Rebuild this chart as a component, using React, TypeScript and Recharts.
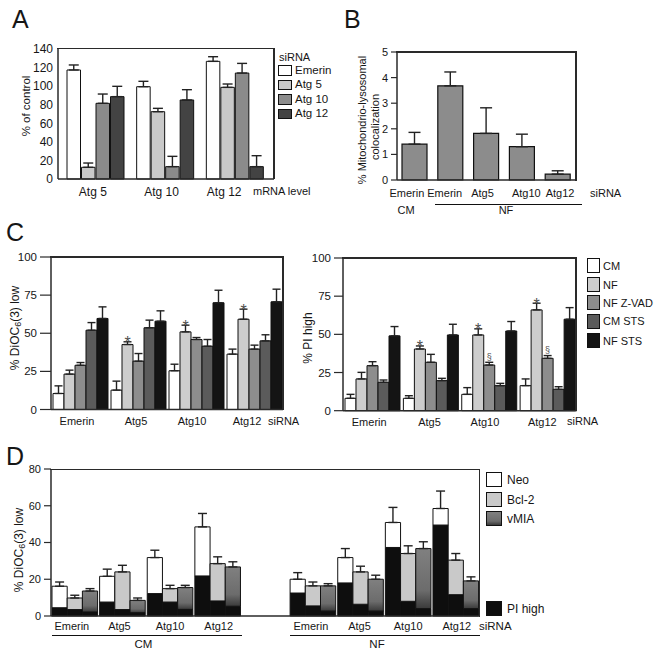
import React from 'react';
import { BarChart, Bar, XAxis, YAxis, ErrorBar, LabelList } from 'recharts';

const FONT = '"Liberation Sans", Arial, Helvetica, sans-serif';
const INK = '#161616';
const FRAME = '#2a2a2a';

// ---------------- Panel A : % of control (mRNA level) ----------------
const aCategories = ['Atg 5', 'Atg 10', 'Atg 12'];
const aSeriesNames = ['Emerin', 'Atg 5', 'Atg 10', 'Atg 12'];
const aEmerin = [117.4, 99.4, 126.7];
const aEmerinErr = [5.4, 5.8, 5.0];
const aAtg5 = [12.6, 72.5, 98.7];
const aAtg5Err = [4.6, 3.6, 3.6];
const aAtg10 = [81.5, 13.3, 114.1];
const aAtg10Err = [10.0, 11.1, 10.4];
const aAtg12 = [88.7, 85.1, 13.3];
const aAtg12Err = [11.1, 11.1, 11.8];
const aTicks = [0, 20, 40, 60, 80, 100, 120, 140];

// ---------------- Panel B : % mitochondrio-lysosomal colocalization ----------------
const bCategories = ['Emerin', 'Emerin', 'Atg5', 'Atg10', 'Atg12'];
const bValues = [1.4, 3.68, 1.82, 1.3, 0.23];
const bErr = [0.46, 0.54, 1.0, 0.49, 0.13];
const bTicks = [0, 1, 2, 3, 4, 5];

// ---------------- Panel C ----------------
const cCategories = ['Emerin', 'Atg5', 'Atg10', 'Atg12'];
const cSeriesNames = ['CM', 'NF', 'NF Z-VAD', 'CM STS', 'NF STS'];
const cTicks = [0, 25, 50, 75, 100];
// left: % DiOC6(3) low
const cLowCM = [10.5, 12.7, 25.4, 36.3];
const cLowCMErr = [5.0, 5.9, 4.3, 3.3];
const cLowNF = [23.2, 42.6, 50.9, 59.2];
const cLowNFErr = [2.6, 1.8, 4.4, 6.6];
const cLowNFZ = [29.0, 31.7, 45.9, 39.6];
const cLowNFZErr = [1.8, 5.0, 1.3, 2.6];
const cLowCMSTS = [52.0, 53.6, 41.5, 45.0];
const cLowCMSTSErr = [5.0, 5.0, 4.4, 4.0];
const cLowNFSTS = [59.7, 57.9, 70.0, 70.6];
const cLowNFSTSErr = [7.6, 6.8, 8.2, 8.3];
const cLowNFMark = ['', '*', '*', '*'];
const cLowNFZMark = ['', '', '', ''];
// right: % PI high
const cPiCM = [8.1, 8.1, 10.7, 16.4];
const cPiCMErr = [2.6, 1.7, 4.4, 4.4];
const cPiNF = [20.8, 40.4, 49.6, 66.0];
const cPiNFErr = [4.3, 2.0, 4.0, 4.4];
const cPiNFZ = [29.5, 31.7, 29.9, 34.3];
const cPiNFZErr = [2.6, 5.2, 1.8, 1.8];
const cPiCMSTS = [18.6, 19.7, 16.4, 14.0];
const cPiCMSTSErr = [1.5, 1.5, 1.5, 1.7];
const cPiNFSTS = [49.0, 49.6, 52.2, 59.9];
const cPiNFSTSErr = [6.1, 7.0, 6.2, 7.6];
const cPiNFMark = ['', '*', '*', '*'];
const cPiNFZMark = ['', '', '§', '§'];

// ---------------- Panel D : % DiOC6(3) low with PI high fraction ----------------
const dCategories = ['Emerin', 'Atg5', 'Atg10', 'Atg12', '', 'Emerin', 'Atg5', 'Atg10', 'Atg12'];
const dNeoTotal = [16.2, 21.6, 31.8, 48.5, 0, 20.0, 31.8, 50.9, 58.5];
const dNeoErr = [2.3, 3.9, 4.0, 7.3, 0, 3.6, 4.9, 8.2, 9.5];
const dNeoPI = [4.5, 7.6, 12.2, 21.8, 0, 12.5, 18.0, 37.3, 49.5];
const dBclTotal = [9.8, 24.0, 14.9, 28.5, 0, 16.4, 24.0, 34.0, 30.4];
const dBclErr = [1.5, 3.6, 1.8, 3.7, 0, 2.1, 3.1, 4.2, 3.6];
const dBclPI = [3.5, 3.5, 7.6, 8.2, 0, 5.5, 6.4, 8.0, 11.6];
const dVmiaTotal = [13.6, 8.5, 15.5, 26.7, 0, 16.4, 20.0, 36.7, 19.1];
const dVmiaErr = [1.3, 1.3, 1.2, 2.8, 0, 1.2, 2.2, 3.7, 2.2];
const dVmiaPI = [2.2, 1.8, 3.6, 5.3, 0, 2.7, 2.7, 4.0, 4.0];
const dTicks = [0, 20, 40, 60, 80];
const dSeriesNames = ['Neo', 'Bcl-2', 'vMIA', 'PI high'];

// ---------------- styling ----------------
const A_COLORS = ['#ffffff', '#c9c9c9', '#8b8b8b', '#434343'];
const C_COLORS = ['#ffffff', '#cdcdcd', '#8d8d8d', '#5b5b5b', '#141414'];
const D_COLORS = ['#ffffff', '#c9c9c9', 'url(#vmiaGrad)', '#0e0e0e'];
const B_COLOR = '#8c8c8c';

const axisLine = { stroke: FRAME, strokeWidth: 1.5 };

type Plot = { x: number; y: number; w: number; h: number };
const PT = 12, PR = 8, PL = 4;
function boxOf(p: Plot, yw: number, xh: number) {
  return {
    style: { position: 'absolute' as const, left: p.x - yw - PL, top: p.y - PT },
    width: p.w + yw + PL + PR,
    height: p.h + PT + xh,
    margin: { top: PT, right: PR, left: PL, bottom: 0 },
  };
}

const catTick = (fs: number, shift: number[] | number = 0) => (props: any) => {
  const { x, y, payload, index } = props;
  const dx = Array.isArray(shift) ? shift[index] ?? 0 : shift;
  return (
    <text x={x + dx} y={y} dy="0.71em" textAnchor="middle" fontSize={fs} fontFamily={FONT} fill={INK}>
      {payload.value}
    </text>
  );
};

const up = (key: string) => (d: any) => [0, d[key] ?? 0];

const markContent = (fs: number, lift: number) => (props: any) => {
  const vb = props.viewBox || {};
  const x = props.x ?? vb.x;
  const y = props.y ?? vb.y;
  const width = props.width ?? vb.width;
  const height = props.height ?? vb.height;
  const value = props.value;
  if (!value || typeof value !== 'string') return null;
  const [mark, errS, valS] = value.split('|');
  const err = parseFloat(errS);
  const val = parseFloat(valS);
  const errTop = y - (height / val) * err;
  return (
    <text x={x + width / 2} y={errTop + lift} textAnchor="middle" fontSize={fs} fontFamily={FONT} fill="#505050">
      {mark}
    </text>
  );
};
const markKey = (markK: string, errK: string, valK: string) => (d: any) =>
  d[markK] ? `${d[markK]}|${d[errK]}|${d[valK]}` : '';

// ---------------- data rows ----------------
const aData = aCategories.map((cat, i) => ({
  cat,
  emerin: aEmerin[i], emerinErr: aEmerinErr[i],
  atg5: aAtg5[i], atg5Err: aAtg5Err[i],
  atg10: aAtg10[i], atg10Err: aAtg10Err[i],
  atg12: aAtg12[i], atg12Err: aAtg12Err[i],
}));

const bData = bCategories.map((cat, i) => ({ cat: cat, key: `${cat}-${i}`, v: bValues[i], err: bErr[i] }));

const makeC = (cm: number[], cmE: number[], nf: number[], nfE: number[], nfz: number[], nfzE: number[],
  cms: number[], cmsE: number[], nfs: number[], nfsE: number[], nfM: string[], nfzM: string[]) =>
  cCategories.map((cat, i) => ({
    cat,
    cm: cm[i], cmErr: cmE[i],
    nf: nf[i], nfErr: nfE[i], nfMark: nfM[i],
    nfz: nfz[i], nfzErr: nfzE[i], nfzMark: nfzM[i],
    cms: cms[i], cmsErr: cmsE[i],
    nfs: nfs[i], nfsErr: nfsE[i],
  }));

const cLowData = makeC(cLowCM, cLowCMErr, cLowNF, cLowNFErr, cLowNFZ, cLowNFZErr, cLowCMSTS, cLowCMSTSErr,
  cLowNFSTS, cLowNFSTSErr, cLowNFMark, cLowNFZMark);
const cPiData = makeC(cPiCM, cPiCMErr, cPiNF, cPiNFErr, cPiNFZ, cPiNFZErr, cPiCMSTS, cPiCMSTSErr,
  cPiNFSTS, cPiNFSTSErr, cPiNFMark, cPiNFZMark);

const dData = dCategories.map((cat, i) => ({
  cat: cat,
  key: `${cat}-${i}`,
  neoPI: dNeoPI[i], neoRest: dNeoTotal[i] - dNeoPI[i], neoErr: dNeoErr[i],
  bclPI: dBclPI[i], bclRest: dBclTotal[i] - dBclPI[i], bclErr: dBclErr[i],
  vmPI: dVmiaPI[i], vmRest: dVmiaTotal[i] - dVmiaPI[i], vmErr: dVmiaErr[i],
}));

// ---------------- plot rectangles ----------------
const A_PLOT: Plot = { x: 58, y: 48.5, w: 216, h: 130 };
const B_PLOT: Plot = { x: 397, y: 52, w: 179, h: 128 };
const CL_PLOT: Plot = { x: 51, y: 257, w: 232, h: 152.5 };
const CR_PLOT: Plot = { x: 342.5, y: 258, w: 233.5, h: 152.7 };
const D_PLOT: Plot = { x: 50.7, y: 469.3, w: 428.6, h: 147 };

const yTick = (fs: number) => ({ fontSize: fs, fill: INK, fontFamily: FONT });

// top and right edges of a boxed plot
function FrameEdges({ p }: { p: Plot }) {
  return (
    <>
      <div style={{ position: 'absolute', left: p.x - 0.75, top: p.y - 0.75, width: p.w + 1.5, height: 1.5, background: FRAME, pointerEvents: 'none' }} />
      <div style={{ position: 'absolute', left: p.x + p.w - 0.75, top: p.y - 0.75, width: 1.5, height: p.h + 1.5, background: FRAME, pointerEvents: 'none' }} />
    </>
  );
}

function PanelA() {
  const b = boxOf(A_PLOT, 40, 26);
  const keys = ['emerin', 'atg5', 'atg10', 'atg12'];
  return (
    <div style={b.style}>
      <BarChart width={b.width} height={b.height} margin={b.margin} data={aData} barSize={13.5} barGap={1}>
        <XAxis dataKey="cat" interval={0} tick={catTick(12, [-3, -4, -11])} tickLine={false} tickSize={0} tickMargin={8}
          axisLine={axisLine} height={26} padding={{ left: 3, right: 4 }} />
        <YAxis domain={[0, 140]} ticks={aTicks} interval={0} tick={yTick(12)} tickLine={false} tickSize={0} tickMargin={5}
          axisLine={axisLine} width={40} />
        {keys.map((k, i) => (
          <Bar key={k} dataKey={k} name={aSeriesNames[i]} fill={A_COLORS[i]} stroke="#111" strokeWidth={1} isAnimationActive={false}>
            <ErrorBar dataKey={up(`${k}Err`)} width={5} stroke="#222" strokeWidth={1.4} />
          </Bar>
        ))}
      </BarChart>
    </div>
  );
}

function PanelB() {
  const b = boxOf(B_PLOT, 30, 24);
  return (
    <div style={b.style}>
      <BarChart width={b.width} height={b.height} margin={b.margin} data={bData} barSize={25}>
        <XAxis dataKey="key" interval={0} tick={(p: any) => catTick(11, [-8, -6, -4, 4, 2])({ ...p, payload: { value: bCategories[p.index] } })}
          tickLine={false} tickSize={0} tickMargin={9} axisLine={axisLine} height={24} />
        <YAxis domain={[0, 5]} ticks={bTicks} interval={0} tick={yTick(11)} tickLine={{ stroke: FRAME, strokeWidth: 1.2 }}
          tickSize={6} tickMargin={3} axisLine={axisLine} width={30} />
        <Bar dataKey="v" fill={B_COLOR} stroke="#111" strokeWidth={1.2} isAnimationActive={false}>
          <ErrorBar dataKey={up('err')} width={6} stroke="#222" strokeWidth={1.4} />
        </Bar>
      </BarChart>
    </div>
  );
}

function PanelC({ plot, data, tickSize, shift }: { plot: Plot; data: any[]; tickSize: number; shift: number[] }) {
  const b = boxOf(plot, 40, 24);
  const keys = ['cm', 'nf', 'nfz', 'cms', 'nfs'];
  return (
    <div style={b.style}>
      <BarChart width={b.width} height={b.height} margin={b.margin} data={data} barSize={11} barGap={0}>
        <XAxis dataKey="cat" interval={0} tick={catTick(11, shift)} tickLine={false} tickSize={0} tickMargin={7.5}
          axisLine={axisLine} height={24} />
        <YAxis domain={[0, 100]} ticks={cTicks} interval={0} tick={yTick(11.5)} tickLine={{ stroke: FRAME, strokeWidth: 1.2 }}
          tickSize={tickSize} tickMargin={3} axisLine={axisLine} width={40} />
        {keys.map((k, i) => (
          <Bar key={k} dataKey={k} name={cSeriesNames[i]} fill={C_COLORS[i]} stroke="#111" strokeWidth={1} isAnimationActive={false}>
            <ErrorBar dataKey={up(`${k}Err`)} width={4} stroke="#222" strokeWidth={1.4} />
            {k === 'nf' && <LabelList dataKey={markKey('nfMark', 'nfErr', 'nf')} content={markContent(16, 6.5)} />}
            {k === 'nfz' && <LabelList dataKey={markKey('nfzMark', 'nfzErr', 'nfz')} content={markContent(9, -2.5)} />}
          </Bar>
        ))}
      </BarChart>
    </div>
  );
}

function PanelD() {
  const b = boxOf(D_PLOT, 40, 24);
  const groups = [
    { pi: 'neoPI', rest: 'neoRest', err: 'neoErr', id: 'neo', color: D_COLORS[0] },
    { pi: 'bclPI', rest: 'bclRest', err: 'bclErr', id: 'bcl', color: D_COLORS[1] },
    { pi: 'vmPI', rest: 'vmRest', err: 'vmErr', id: 'vm', color: D_COLORS[2] },
  ];
  return (
    <div style={b.style}>
      <BarChart width={b.width} height={b.height} margin={b.margin} data={dData} barSize={15.2} barGap={0}>
        <defs>
          <linearGradient id="vmiaGrad" x1="0" y1="0" x2="0" y2="1">
            <stop offset="0%" stopColor="#808080" />
            <stop offset="70%" stopColor="#6c6c6c" />
            <stop offset="100%" stopColor="#3a3a3a" />
          </linearGradient>
        </defs>
        <XAxis dataKey="key" interval={0}
          tick={(p: any) => catTick(11, [-3, -3, 0, 1, 0, -2, -1, 0, 1])({ ...p, payload: { value: dCategories[p.index] } })}
          tickLine={false} tickSize={0} tickMargin={6.5} axisLine={axisLine} height={24} />
        <YAxis domain={[0, 80]} ticks={dTicks} interval={0} tick={yTick(11)} tickLine={{ stroke: FRAME, strokeWidth: 1.2 }}
          tickSize={7} tickMargin={3} axisLine={axisLine} width={40} />
        {groups.flatMap((g, gi) => [
          <Bar key={g.pi} dataKey={g.pi} stackId={g.id} name={dSeriesNames[3]} fill={D_COLORS[3]} stroke="#111" strokeWidth={1}
            isAnimationActive={false} />,
          <Bar key={g.rest} dataKey={g.rest} stackId={g.id} name={dSeriesNames[gi]} fill={g.color} stroke="#111" strokeWidth={1}
            isAnimationActive={false}>
            <ErrorBar dataKey={up(g.err)} width={4.5} stroke="#222" strokeWidth={1.4} />
          </Bar>,
        ])}
      </BarChart>
    </div>
  );
}

// ---------------- text helpers ----------------
function T({ x, y, size = 11, children, anchor = 'start', weight = 400 }: any) {
  const tx = anchor === 'middle' ? '-50%' : anchor === 'end' ? '-100%' : '0';
  return (
    <div style={{ position: 'absolute', left: x, top: y, transform: `translate(${tx}, -50%)`, fontSize: size,
      fontFamily: FONT, color: INK, whiteSpace: 'nowrap', lineHeight: 1, fontWeight: weight }}>
      {children}
    </div>
  );
}
function RT({ x, y, size = 12, children }: any) {
  return (
    <div style={{ position: 'absolute', left: x, top: y, transform: 'translate(-50%, -50%) rotate(-90deg)', fontSize: size,
      fontFamily: FONT, color: INK, whiteSpace: 'nowrap', lineHeight: 1 }}>
      {children}
    </div>
  );
}
function Sw({ x, y, w, h, fill }: any) {
  return (
    <div style={{ position: 'absolute', left: x, top: y, width: w, height: h, boxSizing: 'border-box',
      border: '1.5px solid #111', background: fill }} />
  );
}
function HLine({ x, y, w }: any) {
  return <div style={{ position: 'absolute', left: x, top: y, width: w, height: 1.3, background: '#111' }} />;
}

const DiOC = () => (
  <span>% DiOC<span style={{ fontSize: '0.75em', position: 'relative', top: '0.25em' }}>6</span>(3) low</span>
);

export default function App() {
  const aLegendTops = [65, 79.5, 94, 108.5];
  const cLegendTops = [258, 277, 295, 313.5, 333];
  const dLegendTops = [472, 492, 511];
  const vmiaSwatch = 'linear-gradient(#808080, #6c6c6c 70%, #3a3a3a)';
  return (
    <div style={{ position: 'absolute', left: 0, top: 0, width: 656, height: 655, background: '#fff', overflow: 'hidden' }}>
      <PanelA />
      <PanelB />
      <PanelC plot={CL_PLOT} data={cLowData} tickSize={11} shift={[-3, -2, -4, -7]} />
      <PanelC plot={CR_PLOT} data={cPiData} tickSize={9} shift={[-3, -1, -4, -5]} />
      <PanelD />
      <FrameEdges p={A_PLOT} />
      <FrameEdges p={B_PLOT} />
      <FrameEdges p={CL_PLOT} />
      <FrameEdges p={CR_PLOT} />
      <FrameEdges p={D_PLOT} />

      {/* panel letters */}
      <T x={12} y={19} size={25}>A</T>
      <T x={344} y={19} size={25}>B</T>
      <T x={6} y={232} size={25}>C</T>
      <T x={6} y={456} size={25}>D</T>

      {/* Panel A texts */}
      <RT x={27} y={106} size={11.5}>% of control</RT>
      <T x={253} y={191} size={11}>mRNA level</T>
      <T x={279} y={57} size={11}>siRNA</T>
      {aSeriesNames.map((n, i) => (
        <React.Fragment key={n}>
          <Sw x={278} y={aLegendTops[i]} w={14} h={10.5} fill={A_COLORS[i]} />
          <T x={295} y={aLegendTops[i] + 5.5} size={11.5}>{n}</T>
        </React.Fragment>
      ))}

      {/* Panel B texts */}
      <RT x={362} y={120} size={11}>% Mitochondrio-lysosomal</RT>
      <RT x={375} y={127} size={11}>colocalization</RT>
      <T x={590} y={193} size={11}>siRNA</T>
      <HLine x={435} y={203.5} w={147} />
      <T x={406} y={210} size={11} anchor="middle">CM</T>
      <T x={506} y={210} size={11} anchor="middle">NF</T>

      {/* Panel C texts */}
      <RT x={15} y={328} size={12}><DiOC /></RT>
      <RT x={308} y={338} size={12}>% PI high</RT>
      <T x={268} y={421} size={11}>siRNA</T>
      <T x={567} y={421} size={11}>siRNA</T>
      {cSeriesNames.map((n, i) => (
        <React.Fragment key={n}>
          <Sw x={587} y={cLegendTops[i]} w={13} h={15} fill={C_COLORS[i]} />
          <T x={603} y={cLegendTops[i] + 7.5} size={11}>{n}</T>
        </React.Fragment>
      ))}

      {/* Panel D texts */}
      <RT x={19} y={550} size={12}><DiOC /></RT>
      {dSeriesNames.slice(0, 3).map((n, i) => (
        <React.Fragment key={n}>
          <Sw x={486} y={dLegendTops[i]} w={16} h={15} fill={i === 2 ? vmiaSwatch : D_COLORS[i]} />
          <T x={507} y={dLegendTops[i] + 7.5} size={12}>{n}</T>
        </React.Fragment>
      ))}
      <Sw x={486} y={601} w={16} h={15} fill={D_COLORS[3]} />
      <T x={507} y={608.5} size={12}>{dSeriesNames[3]}</T>
      <T x={479} y={627} size={11.5}>siRNA</T>
      <HLine x={52} y={634.5} w={190} />
      <HLine x={290} y={634.5} w={190} />
      <T x={143.5} y={645} size={11.5} anchor="middle">CM</T>
      <T x={377} y={645} size={11.5} anchor="middle">NF</T>
    </div>
  );
}
